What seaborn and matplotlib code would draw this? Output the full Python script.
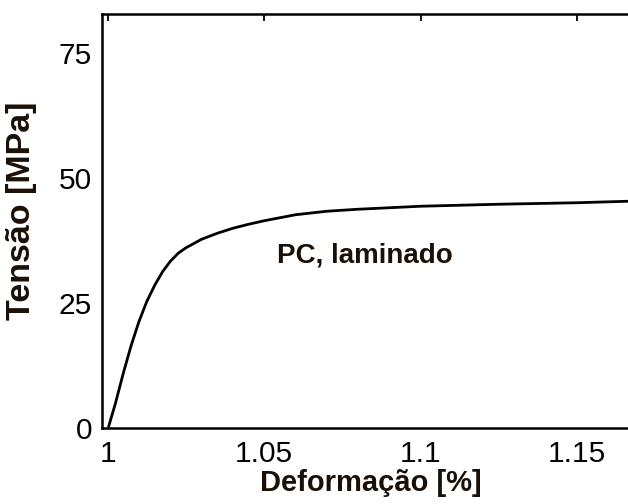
import matplotlib
matplotlib.use("Agg")
import matplotlib.pyplot as plt
import seaborn as sns
import pandas as pd

strain = [1.0003, 1.0025, 1.0050, 1.0075, 1.0100, 1.0125, 1.0150, 1.0175, 1.0200,
          1.0225, 1.0250, 1.0300, 1.0350, 1.0400, 1.0450, 1.0500, 1.0600, 1.0700,
          1.0800, 1.0900, 1.1000, 1.1250, 1.1500, 1.1665]
stress = [0.3, 5.0, 11.0, 16.5, 21.3, 25.3, 28.5, 31.2, 33.3,
          34.9, 36.0, 37.7, 38.9, 39.9, 40.7, 41.4, 42.6, 43.3,
          43.7, 44.0, 44.3, 44.7, 45.0, 45.3]
xticks = [1, 1.05, 1.1, 1.15]
xticklabels = ["1", "1.05", "1.1", "1.15"]
yticks = [0, 25, 50, 75]
label_text = "PC, laminado"

sns.set_style("white")
plt.rcParams['font.family'] = ['Liberation Sans', 'DejaVu Sans']

df = pd.DataFrame({"x": strain, "y": stress})
W, H = 628, 504
fig = plt.figure(figsize=(6.28, 5.04), dpi=100)
ax = fig.add_axes([101.7 / W, 76 / H, 1 - 101.7 / W, 414 / H])
sns.lineplot(data=df, x="x", y="y", sort=False, color="black", linewidth=2.0, ax=ax)

ax.set_xlim(0.99808, 1.1662)
ax.set_ylim(0, 82.7)
ax.set_xticks(xticks)
ax.set_xticklabels(xticklabels)
ax.set_yticks(yticks)
ax.tick_params(direction="in", length=5, width=1.3, labelsize=21.5, top=True,
               colors="black")
ax.tick_params(axis="x", pad=9)
ax.tick_params(axis="y", pad=7)
for s in ["left", "bottom", "top"]:
    ax.spines[s].set_linewidth(1.8)
    ax.spines[s].set_color("black")
ax.spines["right"].set_visible(False)

ax.set_xlabel("Deformação [%]", fontsize=21, fontweight="bold", color="#1a1008")
ax.set_ylabel("Tensão [MPa]", fontsize=24.5, fontweight="bold", color="#1a1008")
ax.xaxis.set_label_coords((371 - 101.7) / (W - 101.7), (428 - 469) / 414)
ax.yaxis.set_label_coords((37 - 101.7) / (W - 101.7), (428 - 211) / 414)
ax.text(1.0822, 34.4, label_text, fontsize=20, fontweight="bold", ha="center", va="center",
        color="#1a1008")

fig.savefig("out.png", dpi=100)
